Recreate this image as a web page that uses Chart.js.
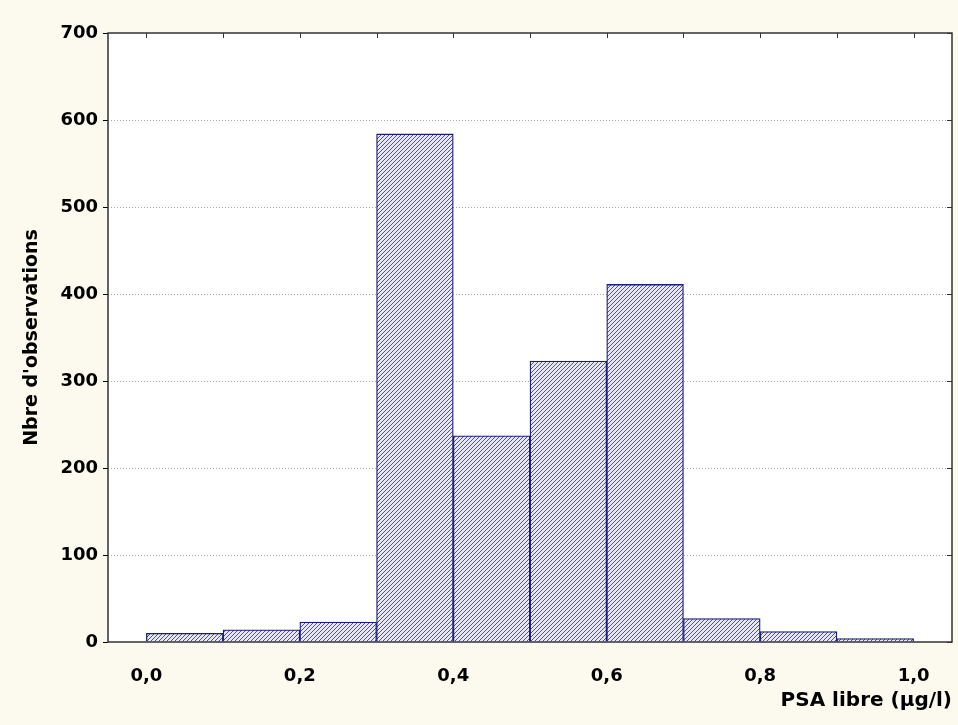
<!DOCTYPE html>
<html>
<head>
<meta charset="utf-8">
<script src="https://cdn.jsdelivr.net/npm/chart.js@4/dist/chart.umd.min.js"></script>
<style>
  html, body { margin: 0; padding: 0; background: #fcfaee; }
  #wrap { width: 958px; height: 725px; }
</style>
</head>
<body>
<div id="wrap"><canvas id="chart" width="958" height="725"></canvas></div>
<script>
// histogram bins (centres, width 0.1) and counts
const binCenters = [0.05, 0.15, 0.25, 0.35, 0.45, 0.55, 0.65, 0.75, 0.85, 0.95];
const counts = [10, 14, 23, 584, 237, 323, 411, 27, 12, 4];
const xTicks = [0.0, 0.2, 0.4, 0.6, 0.8, 1.0];
const xMinorTicks = [0.0, 0.1, 0.2, 0.3, 0.4, 0.5, 0.6, 0.7, 0.8, 0.9, 1.0];
const yTicks = [0, 100, 200, 300, 400, 500, 600, 700];

const FONT = '"DejaVu Sans", sans-serif';

// diagonal hatch fill
function hatch() {
    const c = document.createElement('canvas');
    c.width = 4; c.height = 4;
    const g = c.getContext('2d');
    g.fillStyle = '#e6e6f4';
    g.fillRect(0, 0, 4, 4);
    g.fillStyle = '#55556e';
    for (let i = 0; i < 4; i++) g.fillRect(3 - i, i, 1, 1);
    return g.createPattern(c, 'repeat');
}

// white plot area, frame and inward tick marks (top + right)
const framePlugin = {
    id: 'frame',
    beforeDraw(chart) {
        const a = chart.chartArea, ctx = chart.ctx;
        ctx.save();
        ctx.fillStyle = '#ffffff';
        ctx.fillRect(a.left, a.top, a.right - a.left, a.bottom - a.top);
        ctx.restore();
    },
    afterDraw(chart) {
        const a = chart.chartArea, ctx = chart.ctx;
        const x = chart.scales.x, y = chart.scales.y;
        ctx.save();
        ctx.strokeStyle = '#333';
        ctx.lineWidth = 1.5;
        ctx.strokeRect(a.left, a.top, a.right - a.left, a.bottom - a.top);
        ctx.lineWidth = 1;
        ctx.beginPath();
        xMinorTicks.forEach(v => {
            const px = Math.round(x.getPixelForValue(v)) + 0.5;
            ctx.moveTo(px, a.top);
            ctx.lineTo(px, a.top + 5);
        });
        yTicks.forEach(v => {
            const py = Math.round(y.getPixelForValue(v)) + 0.5;
            ctx.moveTo(a.right, py);
            ctx.lineTo(a.right - 5, py);
        });
        ctx.stroke();
        ctx.restore();
    }
};

new Chart(document.getElementById('chart'), {
    type: 'bar',
    data: {
        datasets: [{
            data: binCenters.map((c, i) => ({ x: c, y: counts[i] })),
            backgroundColor: hatch(),
            borderColor: '#1c1c80',
            borderWidth: 1.3,
            barPercentage: 1,
            categoryPercentage: 1
        }]
    },
    options: {
        responsive: false,
        animation: false,
        layout: { padding: { left: 21, right: 6, top: 33, bottom: 12 } },
        plugins: { legend: { display: false }, tooltip: { enabled: false } },
        scales: {
            x: {
                type: 'linear',
                min: -0.05,
                max: 1.05,
                offset: false,
                afterBuildTicks(scale) { scale.ticks = xTicks.map(v => ({ value: v })); },
                afterFit(scale) { scale.height = 71; },
                grid: { display: false },
                border: { display: false },
                ticks: {
                    padding: 16,
                    color: '#000',
                    font: { family: FONT, size: 18, weight: 'bold' },
                    callback: v => v.toFixed(1).replace('.', ',')
                },
                title: {
                    display: true,
                    text: 'PSA libre (µg/l)',
                    align: 'end',
                    color: '#000',
                    padding: { top: 2, bottom: 0 },
                    font: { family: FONT, size: 20, weight: 'bold' }
                }
            },
            y: {
                min: 0,
                max: 700,
                afterBuildTicks(scale) { scale.ticks = yTicks.map(v => ({ value: v })); },
                afterFit(scale) { scale.width = 87; },
                grid: {
                    color: ctx => (ctx.tick && (ctx.tick.value === 0 || ctx.tick.value === 700)) ? 'rgba(0,0,0,0)' : '#a8a8a8',
                    tickColor: '#000',
                    tickLength: 5
                },
                border: { display: false, dash: [1, 2] },
                ticks: {
                    padding: 5,
                    color: '#000',
                    font: { family: FONT, size: 18, weight: 'bold' }
                },
                title: {
                    display: true,
                    text: "Nbre d'observations",
                    color: '#000',
                    padding: { top: 0, bottom: 6 },
                    font: { family: FONT, size: 19, weight: 'bold' }
                }
            }
        }
    },
    plugins: [framePlugin]
});
</script>
</body>
</html>
